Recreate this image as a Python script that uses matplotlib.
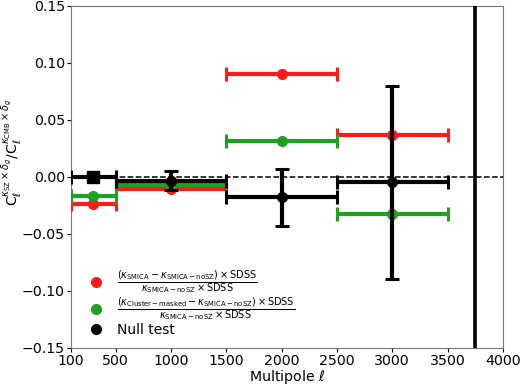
import numpy as np
import matplotlib.pyplot as plt

# bin centres and edges
ell = [300, 1000, 2000, 3000]
ell_lo = [100, 500, 1500, 2500]
ell_hi = [500, 1500, 2500, 3500]

red_y = [-0.024, -0.011, 0.090, 0.037]
green_y = [-0.017, -0.007, 0.031, -0.033]
null_y = [0.000, -0.0035, -0.018, -0.005]
null_err = [0.0, 0.0085, 0.025, 0.0845]

ell_max = 3750

fig, ax = plt.subplots(figsize=(5.2, 3.88), dpi=100)

xerr = [np.array(ell) - np.array(ell_lo), np.array(ell_hi) - np.array(ell)]

kw = dict(elinewidth=3, capsize=5, capthick=2.2)
ax.errorbar(ell, red_y, xerr=xerr, fmt='o', color='#ff1a1a', ms=7, zorder=3, **kw)
ax.errorbar(ell, green_y, xerr=xerr, fmt='o', color='#1fa01f', ms=7, zorder=4, **kw)
# first null bin drawn with a square
ax.errorbar(ell[1:], null_y[1:], xerr=[xerr[0][1:], xerr[1][1:]], yerr=null_err[1:],
            fmt='o', color='black', ms=7, zorder=5, **kw)
ax.errorbar(ell[:1], null_y[:1], xerr=[xerr[0][:1], xerr[1][:1]],
            fmt='s', color='black', ms=9, zorder=5, **kw)

ax.axhline(0, color='black', ls='--', lw=1.1, zorder=2)
ax.axvline(ell_max, color='black', lw=2.6, zorder=6)

# legend handles (markers only)
ax.plot([], [], 'o', color='#ff1a1a', ms=7,
        label=r'$\frac{(\kappa_{\rm SMICA}-\kappa_{\rm SMICA-noSZ})\times{\rm SDSS}}{\kappa_{\rm SMICA-noSZ}\times{\rm SDSS}}$')
ax.plot([], [], 'o', color='#1fa01f', ms=7,
        label=r'$\frac{(\kappa_{\rm Cluster-masked}-\kappa_{\rm SMICA-noSZ})\times{\rm SDSS}}{\kappa_{\rm SMICA-noSZ}\times{\rm SDSS}}$')
ax.plot([], [], 'o', color='black', ms=7, label='Null test')
ax.legend(loc='lower left', frameon=False, fontsize=10, handletextpad=0.5,
          labelspacing=0.0, borderaxespad=0.4, bbox_to_anchor=(0.0, 0.0))

ax.set_xlim(100, 4000)
ax.set_ylim(-0.15, 0.15)
ax.set_xticks([100, 500, 1000, 1500, 2000, 2500, 3000, 3500, 4000])
ax.set_yticks([-0.15, -0.10, -0.05, 0.00, 0.05, 0.10, 0.15])
ax.tick_params(labelsize=10.2, pad=1.5, length=3)
ax.set_xlabel(r'Multipole $\ell$', fontsize=10.2)
ax.xaxis.set_label_coords(0.5, -0.06)
ax.set_ylabel(r'$\mathrm{C}_\ell^{\kappa_{\rm SZ}\times\delta_g}/\mathrm{C}_\ell^{\kappa_{\rm CMB}\times\delta_g}$',
              fontsize=10)
ax.yaxis.set_label_coords(-0.106, 0.57)
for s in ax.spines.values():
    s.set_color('#777777')

fig.subplots_adjust(left=0.137, right=0.967, top=0.985, bottom=0.104)
fig.savefig('out.png', dpi=100)
